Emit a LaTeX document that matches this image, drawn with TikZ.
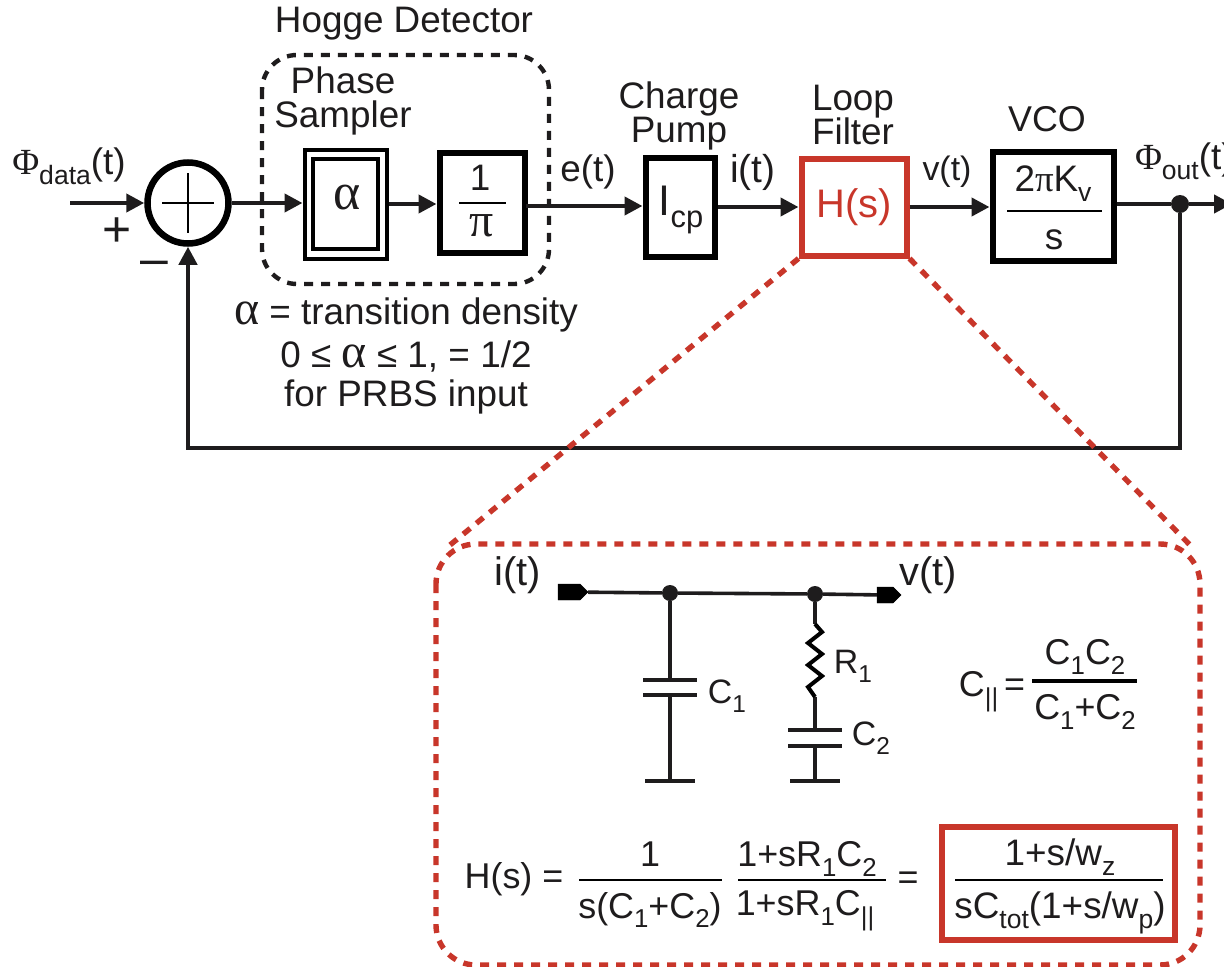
\documentclass[tikz,border=0pt]{standalone}
\usepackage{fontspec}
\usepackage{graphicx}
\setmainfont{Liberation Sans}
\newfontfamily\grk{Liberation Serif}
\usetikzlibrary{arrows.meta,shapes.geometric,shapes.symbols}
\newcommand{\dn}[1]{\raisebox{-0.27em}{\scalebox{0.72}{#1}}}
\newcommand{\gk}[1]{{\grk #1}}
\newcommand{\gkb}[1]{\scalebox{1.3}{\grk #1}}
\definecolor{lfred}{RGB}{200,54,42}
\definecolor{ink}{RGB}{30,28,29}
\tikzset{
  x=1bp,y=-1bp,
  txt/.style={inner sep=0pt,outer sep=0pt,text=ink,align=center,font=\fontsize{37}{35}\selectfont},
  small/.style={txt,font=\fontsize{36}{36}\selectfont},
  lab/.style={txt,font=\fontsize{34}{36}\selectfont},
  wire/.style={draw=ink,line width=4.2bp},
  sig/.style={wire,-{Triangle[length=18bp,width=18bp]}},
  bar/.style={draw=black,line width=2.8bp},
  thin wire/.style={draw=ink,line width=3.6bp},
  dashk/.style={draw=ink,line width=4.4bp,dash pattern=on 9bp off 8bp},
  dashr/.style={draw=lfred,line width=5.4bp,dash pattern=on 9bp off 8bp},
  dot/.style={circle,fill=ink,inner sep=0pt,minimum size=18bp},
  term/.style={signal,signal to=east,fill=black,draw=black,inner sep=0pt,minimum height=16bp},
}
\begin{document}
\begin{tikzpicture}
\useasboundingbox (0,0) rectangle (1224,967);
% upper dashed frames
\draw[dashk,rounded corners=35bp] (262,55) rectangle (549,284);
\node[txt] (hogge) at (404,24) {Hogge Detector};
\node[txt] (ps) at (343,101) {Phase\\Sampler};
% blocks
\node[circle,draw=black,line width=6.5bp,minimum size=81bp,inner sep=0pt] (sum) at (188,203) {};
\draw[draw=black,line width=2.4bp] (sum.center) ++(-26,0) coordinate (sl) -- ++(52,0) coordinate (sr);
\draw[draw=black,line width=2.4bp] (sum.center) ++(0,-30) coordinate (st) -- ++(0,60) coordinate (sb);
\node[draw=black,line width=4bp,minimum width=82bp,minimum height=109bp,inner sep=0pt] (alpha) at (345.5,204) {};
\node[draw=black,line width=4.5bp,minimum width=65bp,minimum height=90bp,inner sep=0pt] (alphain) at (345.5,204) {};
\node[txt,font=\fontsize{52}{52}\selectfont] (alphat) at (347,198) {\gk{α}};
\node[draw=black,line width=6bp,minimum width=85bp,minimum height=100bp,inner sep=0pt] (pi) at (482,203) {};
\node[txt] (one) at (480,178) {1};
\draw[bar] (459,203) coordinate (pil) -- (506,203) coordinate (pir);
\node[txt,font=\fontsize{48}{48}\selectfont] (pit) at (482,226) {\gk{π}};
\node[draw=black,line width=6bp,minimum width=69bp,minimum height=99bp,inner sep=0pt] (icp) at (680,207) {};
\node[txt,font=\fontsize{43}{44}\selectfont] (icpt) at (681,210) {I\dn{cp}};
\node[draw=lfred,line width=6bp,minimum width=105bp,minimum height=97bp,inner sep=0pt] (hs) at (854,207) {};
\node[txt,text=lfred,font=\fontsize{40}{40}\selectfont] (hst) at (854,207) {H(s)};
\node[draw=black,line width=6bp,minimum width=121bp,minimum height=109bp,inner sep=0pt] (vco) at (1053,206) {};
\node[txt] (kv) at (1053,184) {2\gk{π}K\dn{v}};
\draw[bar] (1007,211) coordinate (vl) -- (1102,211) coordinate (vr);
\node[txt] (vs) at (1054,240) {s};
% labels
\node[txt] (phid) at (69,166) {\gk{Φ}\dn{data}(t)};
\node[txt,font=\fontsize{50}{50}\selectfont] (plus) at (117,232) {+};
\node[txt,font=\fontsize{50}{50}\selectfont] (minus) at (154,268) {–};
\node[txt] (et) at (588,172) {e(t)};
\node[txt,font=\fontsize{39}{40}\selectfont] (it) at (753,172) {i(t)};
\node[lab] (vt) at (947,172) {v(t)};
\node[txt,anchor=west] (phio) at (1135,161) {\gk{Φ}\dn{out}(t)};
\node[txt] (cp) at (679,116) {Charge\\Pump};
\node[txt] (lf) at (853,115) {Loop\\Filter};
\node[small] (vcol) at (1047,119) {VCO};
\node[txt] (n1) at (406,315) {\gkb{α} = transition density};
\node[txt] (n2) at (406,356) {0 ≤ \gkb{α} ≤ 1, = 1/2};
\node[txt] (n3) at (406,397) {for PRBS input};
% connectors
\coordinate (in) at (70,203);
\coordinate (out) at (1232,204);
\coordinate (fbr) at (1180,448);
\coordinate (fbl) at (188,448);
\coordinate (pe) at (526,206);
\node[dot] (od) at (1180,204) {};
\draw[sig] (in) -- (sum.west);
\draw[sig] (sum.east) -- (sum.east -| alpha.west);
\draw[sig] (alpha.east) -- (alpha.east -| pi.west);
\draw[sig] (pe) -- (pe -| icp.west);
\draw[sig] (icp.east) -- (hs.west);
\draw[sig] (hs.east) -- (hs.east -| vco.west);
\draw[wire] (vco.east |- od) -- (od);
\draw[sig] (od) -- (out);
\draw[sig] (od) -- (fbr) -- (fbl) -- (sum.south);
% zoom lines and frame
\coordinate (zl) at (450,545);
\coordinate (zr) at (1190,545);
\draw[dashr] (hs.south west) -- (zl);
\draw[dashr] (hs.south east) -- (zr);
\draw[dashr,rounded corners=40bp] (436,544) rectangle (1200,965);
% circuit
\node[term,minimum width=30bp] (ti) at (569,592) {};
\node[term,minimum width=24bp] (to) at (885,595) {};
\node[dot,minimum size=16bp] (d1) at (670,593) {};
\node[dot,minimum size=16bp] (d2) at (815,594) {};
\node[txt,font=\fontsize{40}{40}\selectfont] (cit) at (518,575) {i(t)};
\node[txt,font=\fontsize{40}{40}\selectfont] (cvt) at (928,575) {v(t)};
\draw[thin wire] (ti) -- (d1) -- (d2) -- (to);
\coordinate (c1a) at (670,680); \coordinate (c1b) at (670,695); \coordinate (g1) at (670,781);
\coordinate (r1a) at (815,624); \coordinate (r1b) at (815,697);
\coordinate (c2a) at (815,730); \coordinate (c2b) at (815,746); \coordinate (g2) at (815,781);
\draw[thin wire] (d1) -- (c1a);
\draw[thin wire] (c1b) -- (g1);
\draw[thin wire] (d2) -- (r1a);
\draw[thin wire] (r1b) -- (c2a);
\draw[thin wire] (c2b) -- (g2);
\draw[draw=black,line width=4bp] (r1a) -- (822,632) -- (808,643) -- (822,654) -- (808,665) -- (822,676) -- (808,687) -- (r1b);
\foreach \n in {c1a,c1b} \draw[thin wire,line width=4.4bp] (\n) ++(-27,0) -- ++(54,0);
\foreach \n in {c2a,c2b} \draw[thin wire,line width=4.4bp] (\n) ++(-27,0) -- ++(54,0);
\foreach \n in {g1,g2} \draw[thin wire,line width=4.4bp] (\n) ++(-25,0) -- ++(50,0);
\node[lab] (lc1) at (727,696) {C\dn{1}};
\node[lab] (lr1) at (853,666) {R\dn{1}};
\node[lab] (lc2) at (871,738) {C\dn{2}};
% C parallel
\node[small] (cpar) at (992,692) {C\dn{||}\,=};
\node[small] (cn) at (1085,657) {C\dn{1}C\dn{2}};
\draw[bar,line width=3.4bp] (1032,681) coordinate (cbl) -- (1137,681) coordinate (cbr);
\node[small] (cd) at (1085,712) {C\dn{1}+C\dn{2}};
% transfer function
\node[small] (hlab) at (514,879) {H(s) =};
\node[small] (f1n) at (650,854) {1};
\draw[bar] (579,880) coordinate (f1l) -- (722,880) coordinate (f1r);
\node[small] (f1d) at (650,910) {s(C\dn{1}+C\dn{2})};
\node[small] (f2n) at (807,859) {1+sR\dn{1}C\dn{2}};
\draw[bar] (738,880) coordinate (f2l) -- (886,880) coordinate (f2r);
\node[small] (f2d) at (805,911) {1+sR\dn{1}C\dn{||}};
\node[small] (eq) at (908,881) {=};
\node[draw=lfred,line width=6bp,minimum width=233bp,minimum height=113bp,inner sep=0pt] (res) at (1058.5,883) {};
\node[txt] (rn) at (1060,857) {1+s/w\dn{z}};
\draw[bar] (955,880) coordinate (rl) -- (1163,880) coordinate (rr);
\node[txt] (rd) at (1060,913) {sC\dn{tot}(1+s/w\dn{p})};
\end{tikzpicture}
\end{document}
